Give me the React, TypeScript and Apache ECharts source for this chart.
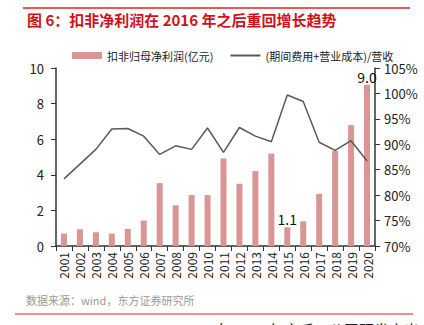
import React, { useEffect, useRef } from "react";
import * as echarts from "echarts";

const years = ["2001","2002","2003","2004","2005","2006","2007","2008","2009","2010","2011","2012","2013","2014","2015","2016","2017","2018","2019","2020"];
const profit = [0.70,0.94,0.77,0.70,0.96,1.43,3.53,2.29,2.86,2.86,4.92,3.50,4.21,5.19,1.05,1.39,2.93,5.34,6.79,9.06];
const profitLabels: Record<number, string> = { 14: "1.1", 19: "9.0" };
const costRatio = [83.2,86.1,89.0,93.0,93.1,91.6,88.0,89.7,89.0,93.2,88.4,93.3,91.6,90.5,99.7,98.4,90.4,88.8,90.7,86.7];
const barName = "扣非归母净利润(亿元)";
const lineName = "(期间费用+营业成本)/营收";
const titleText = "图 6：扣非净利润在 2016 年之后重回增长趋势";
const sourceText = "数据来源：wind，东方证券研究所";
const footText = "自 2015 年之后，公司研发支出占";

const FONT = "'Noto Sans CJK SC', 'Noto Sans', sans-serif";

export default function App() {
  const ref = useRef<HTMLDivElement>(null);
  useEffect(() => {
    if (!ref.current) return;
    const chart = echarts.init(ref.current, null, { renderer: "svg" });
    chart.setOption({
      animation: false,
      textStyle: { fontFamily: FONT },
      graphic: [
        { type: "line", shape: { x1: 23, y1: 8, x2: 410, y2: 8 }, style: { stroke: "#e02020", lineWidth: 1.5 } },
        { type: "text", x: 27, y: 19, style: { text: titleText, fill: "#d0121b", font: "bold 15px " + FONT, textVerticalAlign: "middle" } },
        { type: "text", x: 26, y: 300, style: { text: sourceText, fill: "#9a9a9a", font: "11px " + FONT, textVerticalAlign: "middle" } },
        { type: "line", shape: { x1: 15, y1: 314, x2: 413, y2: 314 }, style: { stroke: "#e02020", lineWidth: 1 } },
        { type: "text", x: 214, y: 329, style: { text: footText, fill: "#222", font: "15px " + FONT, textVerticalAlign: "middle" } },
      ],
      legend: {
        top: 45,
        left: 67,
        itemGap: 16,
        itemWidth: 30,
        itemHeight: 7,
        textStyle: { fontSize: 11, color: "#222", fontFamily: FONT },
        data: [
          { name: barName, icon: "rect" },
          { name: lineName, itemStyle: { opacity: 0 } },
        ],
      },
      grid: { left: 56, right: 49, top: 68, bottom: 79 },
      xAxis: {
        type: "category",
        data: years,
        axisLine: { lineStyle: { color: "#333", width: 1.5 } },
        axisTick: { show: true, length: 5, lineStyle: { color: "#333" } },
        axisLabel: { rotate: 90, fontSize: 12, color: "#222", margin: 6, fontFamily: FONT },
      },
      yAxis: [
        {
          type: "value",
          min: 0,
          max: 10,
          interval: 2,
          splitLine: { show: false },
          axisLine: { show: true, lineStyle: { color: "#333", width: 1.5 } },
          axisTick: { show: true, length: 5, lineStyle: { color: "#333" } },
          axisLabel: { fontSize: 13, color: "#222", margin: 12, fontFamily: FONT },
        },
        {
          type: "value",
          min: 70,
          max: 105,
          interval: 5,
          position: "right",
          splitLine: { show: false },
          axisLine: { show: true, lineStyle: { color: "#333", width: 1.5 } },
          axisTick: { show: true, length: 5, lineStyle: { color: "#333" } },
          axisLabel: { fontSize: 13, color: "#222", margin: 9, formatter: "{value}%", fontFamily: FONT },
        },
      ],
      series: [
        {
          name: barName,
          type: "bar",
          barWidth: 6,
          itemStyle: { color: "#d99694" },
          data: profit.map((v, i) =>
            profitLabels[i]
              ? { value: v, label: { show: true, position: "top", formatter: profitLabels[i], fontSize: 14, color: "#111", distance: 1 } }
              : v
          ),
        },
        {
          name: lineName,
          type: "line",
          yAxisIndex: 1,
          symbol: "none",
          lineStyle: { color: "#595959", width: 1.5 },
          itemStyle: { color: "#595959" },
          data: costRatio,
        },
      ],
    });
    return () => chart.dispose();
  }, []);
  return <div ref={ref} style={{ width: 424, height: 325, position: "absolute", left: 0, top: 0, background: "#fff" }} />;
}
